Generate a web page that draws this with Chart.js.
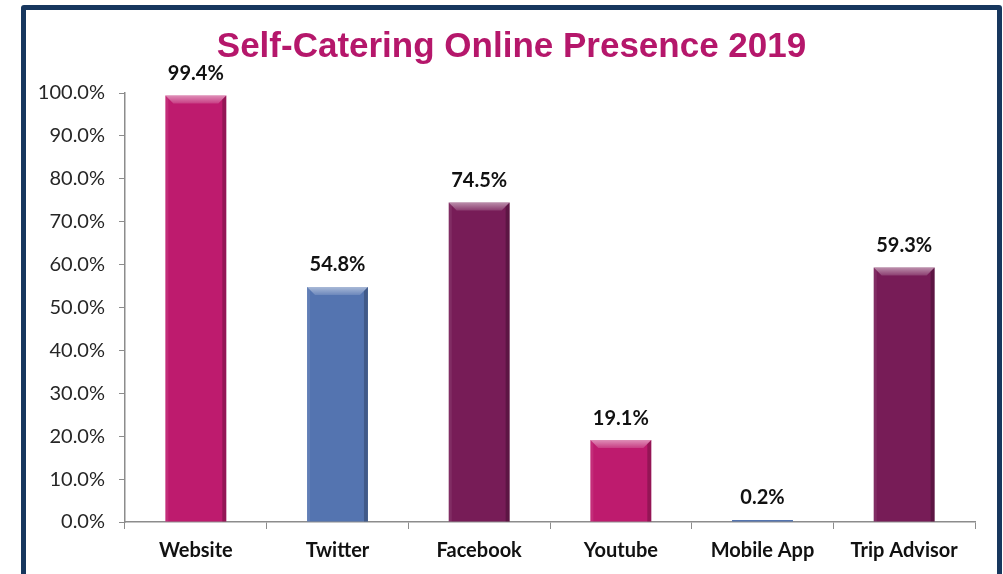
<!DOCTYPE html>
<html>
<head>
<meta charset="utf-8">
<script src="https://cdn.jsdelivr.net/npm/chart.js@4.4.1/dist/chart.umd.min.js"></script>
<style>
  html, body { margin: 0; padding: 0; background: #fff; }
  #wrap { position: relative; width: 1003px; height: 574px; overflow: hidden; }
  #frame {
    position: absolute; left: 21px; top: 5px; width: 971px; height: 600px;
    border: 5px solid #17375e; border-radius: 3px; box-sizing: content-box;
  }
  canvas { position: absolute; left: 0; top: 0; }
</style>
</head>
<body>
<div id="wrap">
  <div id="frame"></div>
  <canvas id="chart" width="1003" height="574"></canvas>
</div>
<script>
const categories = ['Website', 'Twitter', 'Facebook', 'Youtube', 'Mobile App', 'Trip Advisor'];
const values = [99.4, 54.8, 74.5, 19.1, 0.2, 59.3];
const barColors = ['#be1b6e', '#5474b0', '#771c57', '#be1b6e', '#5474b0', '#771c57'];
const yTicks = [0, 10, 20, 30, 40, 50, 60, 70, 80, 90, 100];

const FONT = "Lato, 'Open Sans', sans-serif";

// centre the title inside the frame rather than the whole canvas
const titleShift = {
  id: 'titleShift',
  afterLayout(chart) {
    if (chart.titleBlock) chart.titleBlock.left = 48;
  }
};

// value labels above each bar
const valueLabels = {
  id: 'valueLabels',
  afterDatasetsDraw(chart) {
    const ctx = chart.ctx;
    const meta = chart.getDatasetMeta(0);
    ctx.save();
    ctx.font = "bold 20px " + FONT;
    ctx.fillStyle = '#111';
    ctx.textAlign = 'center';
    ctx.textBaseline = 'middle';
    meta.data.forEach((bar, i) => {
      ctx.fillText(values[i].toFixed(1) + '%', bar.x, bar.y - 22);
    });
    ctx.restore();
  }
};

// excel-ish bevel on the bars
const bevel = {
  id: 'bevel',
  afterDatasetsDraw(chart) {
    const ctx = chart.ctx;
    const meta = chart.getDatasetMeta(0);
    ctx.save();
    meta.data.forEach(bar => {
      const w = bar.width;
      const l = bar.x - w / 2, r = bar.x + w / 2;
      const t = bar.y, b = bar.base;
      const h = b - t;
      if (h < 6) return;
      const d = Math.min(8, h / 2);
      // top highlight
      ctx.beginPath();
      ctx.moveTo(l, t); ctx.lineTo(r, t); ctx.lineTo(r - d, t + d); ctx.lineTo(l + d, t + d);
      ctx.closePath();
      const g = ctx.createLinearGradient(0, t, 0, t + d);
      g.addColorStop(0, 'rgba(255,255,255,0.5)');
      g.addColorStop(1, 'rgba(255,255,255,0.15)');
      ctx.fillStyle = g;
      ctx.fill();
      // right shade
      ctx.beginPath();
      ctx.moveTo(r, t); ctx.lineTo(r, b); ctx.lineTo(r - 4, b); ctx.lineTo(r - 4, t + 4);
      ctx.closePath();
      ctx.fillStyle = 'rgba(0,0,0,0.22)';
      ctx.fill();
      // left soft light
      ctx.beginPath();
      ctx.moveTo(l, t); ctx.lineTo(l + 3, t + 3); ctx.lineTo(l + 3, b); ctx.lineTo(l, b);
      ctx.closePath();
      ctx.fillStyle = 'rgba(255,255,255,0.08)';
      ctx.fill();
    });
    ctx.restore();
  }
};

new Chart(document.getElementById('chart'), {
  type: 'bar',
  data: {
    labels: categories,
    datasets: [{
      data: values,
      backgroundColor: barColors,
      borderWidth: 0,
      minBarLength: 2,
      barPercentage: 0.43,
      categoryPercentage: 1
    }]
  },
  options: {
    responsive: false,
    animation: false,
    devicePixelRatio: 1,
    layout: { padding: { left: 0, right: 28, top: 0, bottom: 0 } },
    plugins: {
      legend: { display: false },
      tooltip: { enabled: false },
      title: {
        display: true,
        text: 'Self-Catering Online Presence 2019',
        color: '#b5176b',
        font: { family: "'Liberation Sans', Arial, sans-serif", size: 35, weight: 'bold' },
        padding: { top: 26, bottom: 25 }
      }
    },
    scales: {
      x: {
        offset: true,
        grid: { offset: true, drawOnChartArea: false, drawTicks: true, tickLength: 7, color: '#8c8c8c' },
        border: { color: '#8c8c8c', width: 1.5 },
        ticks: { color: '#111', padding: 10, font: { family: FONT, size: 20, weight: 'bold' } },
        afterFit(scale) { scale.height = 52; }
      },
      y: {
        min: 0, max: 100,
        afterBuildTicks(scale) { scale.ticks = yTicks.map(v => ({ value: v })); },
        grid: { drawOnChartArea: false, drawTicks: true, tickLength: 6, color: '#8c8c8c' },
        border: { color: '#8c8c8c', width: 1.5 },
        ticks: {
          color: '#262626', padding: 14,
          font: { family: FONT, size: 20 },
          callback: v => v.toFixed(1) + '%'
        },
        afterFit(scale) { scale.width = 125; }
      }
    }
  },
  plugins: [titleShift, bevel, valueLabels]
});
</script>
</body>
</html>
